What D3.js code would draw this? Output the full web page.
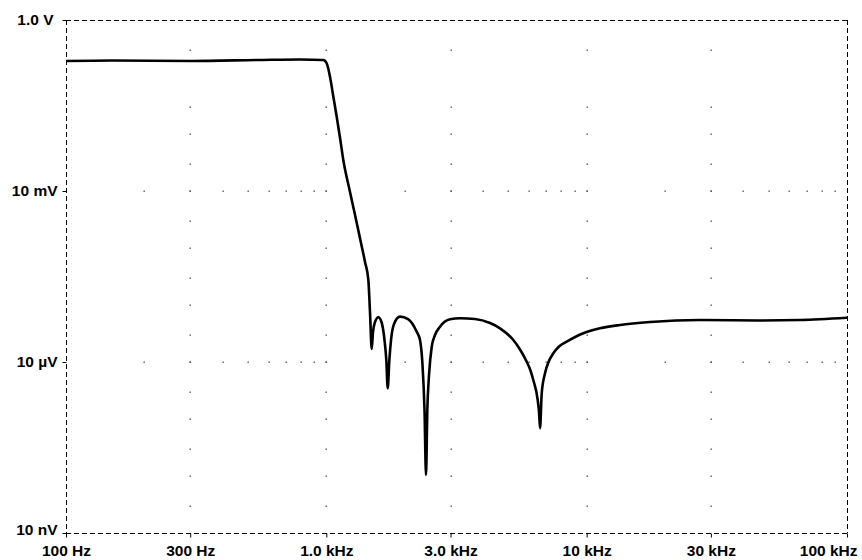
<!DOCTYPE html>
<html>
<head>
<meta charset="utf-8">
<script src="https://cdn.jsdelivr.net/npm/d3@7/dist/d3.min.js"></script>
<style>
  html, body { margin: 0; padding: 0; background: #ffffff; }
  svg { display: block; }
  .tick text { font-family: "Liberation Sans", Arial, sans-serif; font-weight: bold; font-size: 15.5px; fill: #000; }
</style>
</head>
<body>
<svg id="chart" width="862" height="560"></svg>
<script>
// ---- data ----
const freqHz = [100, 150, 300, 556, 792, 974, 1003, 1033, 1064, 1096, 1129, 1162, 1233, 1289, 1359, 1408, 1450, 1472, 1494,
  1511, 1538, 1584, 1629, 1673, 1700, 1721, 1746, 1772, 1820, 1919, 2060, 2224, 2290, 2341, 2383, 2415, 2443, 2480, 2540,
  2615, 2733, 2986, 3263, 3724, 4254, 4647, 5227, 5546, 5885, 6074, 6237, 6486, 6561, 6620, 6720, 6918, 7136, 7446, 7830, 8382, 9707, 11250, 13430,
  17520, 27250, 46350, 65980, 100000];
const outputV = [1.91, 1.95, 1.91, 1.99, 2.03, 1.99, 1.74, 1.01, 0.451, 0.201, 0.085, 0.035, 9.6e-3, 3.8e-3, 1.22e-3, 5.7e-4, 2.75e-4, 7.2e-5, 1.7e-5,
  3.36e-5, 5.03e-5, 6.08e-5, 5.03e-5, 2.43e-5, 1.08e-5, 3.46e-6, 1.08e-5, 2.43e-5, 4.65e-5, 6.24e-5, 5.68e-5, 3.40e-5, 2.43e-5, 8.85e-6, 1.44e-6, 1.04e-7, 1.44e-6, 5.92e-6, 1.85e-5,
  2.98e-5, 4.16e-5, 5.61e-5, 5.85e-5, 5.68e-5, 4.83e-5, 3.90e-5, 2.43e-5, 1.66e-5, 1.01e-5, 7.24e-6, 4.83e-6, 2.15e-6, 1.33e-6, 6.87e-7, 2.83e-6, 6.34e-6, 1.0e-5, 1.42e-5, 1.87e-5, 2.27e-5, 3.19e-5, 3.90e-5, 4.46e-5,
  5.03e-5, 5.46e-5, 5.35e-5, 5.46e-5, 5.98e-5];

const xTickValues = [100, 300, 1000, 3000, 10000, 30000, 100000];
const xTickLabels = ["100 Hz", "300 Hz", "1.0 kHz", "3.0 kHz", "10 kHz", "30 kHz", "100 kHz"];
const yTickValues = [1e-8, 1e-5, 1e-2, 10];
const yTickLabels = ["10 nV", "10 µV", "10 mV", "1.0 V"];

// dotted grid: columns at labelled frequencies, rows at inner voltage labels
const gridColFreqs = [300, 1000, 3000, 10000, 30000];
const gridColVolts = [3, 0.3, 0.1, 0.03, 0.01, 3e-3, 1e-3, 3e-4, 1e-4, 3e-5, 1e-5, 3e-6, 1e-6, 3e-7, 1e-7, 3e-8];
const gridRowVolts = [1e-2, 1e-5];
const gridRowFreqs = [200, 300, 400, 500, 600, 700, 800, 900, 1000, 2000, 3000, 4000, 5000, 6000, 7000, 8000, 9000, 10000,
  20000, 30000, 40000, 50000, 60000, 70000, 80000, 90000];

// ---- chart ----
const svg = d3.select("#chart");
const mLeft = 66, mRight = 847, mTop = 20, mBottom = 533;

const x = d3.scaleLog().domain([100, 100000]).range([mLeft, mRight]);
const y = d3.scaleLog().domain([1e-8, 10]).range([mBottom, mTop]);

// grid dots
const dots = [];
gridColFreqs.forEach(f => gridColVolts.forEach(v => dots.push([f, v])));
gridRowVolts.forEach(v => gridRowFreqs.forEach(f => dots.push([f, v])));
svg.append("g").selectAll("rect").data(dots).join("rect")
  .attr("x", d => Math.round(x(d[0])) - 0.5)
  .attr("y", d => Math.round(y(d[1])) - 0.5)
  .attr("width", 1.4).attr("height", 1.4)
  .attr("fill", "#555");

// dashed frame
const frame = svg.append("g").attr("stroke", "#000").attr("stroke-width", 1).attr("stroke-dasharray", "5,3").attr("fill", "none");
frame.append("line").attr("x1", mLeft).attr("x2", mRight).attr("y1", mTop + 0.5).attr("y2", mTop + 0.5);
frame.append("line").attr("x1", mLeft).attr("x2", mRight).attr("y1", mBottom + 0.5).attr("y2", mBottom + 0.5);
frame.append("line").attr("x1", mLeft + 0.5).attr("x2", mLeft + 0.5).attr("y1", mTop).attr("y2", mBottom);
frame.append("line").attr("x1", mRight + 0.5).attr("x2", mRight + 0.5).attr("y1", mTop).attr("y2", mBottom);

// axes
const xAxis = d3.axisBottom(x).tickValues(xTickValues)
  .tickFormat((d, i) => xTickLabels[i]).tickSize(4).tickPadding(7);
const gx = svg.append("g").attr("transform", `translate(0,${mBottom + 0.5})`).call(xAxis);
gx.select(".domain").remove();
gx.selectAll(".tick line").attr("stroke", "#000");
gx.selectAll(".tick text").filter((d, i) => i === xTickValues.length - 1)
  .attr("text-anchor", "end").attr("dx", 10);

const yAxis = d3.axisLeft(y).tickValues(yTickValues)
  .tickFormat((d, i) => yTickLabels[i]).tickSize(4).tickPadding(5);
const gy = svg.append("g").attr("transform", `translate(${mLeft + 0.5},0)`).call(yAxis);
gy.select(".domain").remove();
gy.selectAll(".tick line").attr("stroke", "#000");
gy.selectAll(".tick text").filter((d, i) => i === 0).attr("dy", "0.1em");
gy.selectAll(".tick text").filter((d, i) => i === yTickValues.length - 1).attr("dx", -4);

// response curve
const line = d3.line()
  .x((d, i) => x(freqHz[i]))
  .y((d, i) => y(outputV[i]))
  .curve(d3.curveMonotoneX);
svg.append("path")
  .datum(freqHz)
  .attr("d", line)
  .attr("fill", "none")
  .attr("stroke", "#000")
  .attr("stroke-width", 2.6)
  .attr("stroke-linejoin", "round")
  .attr("stroke-linecap", "butt");
</script>
</body>
</html>
